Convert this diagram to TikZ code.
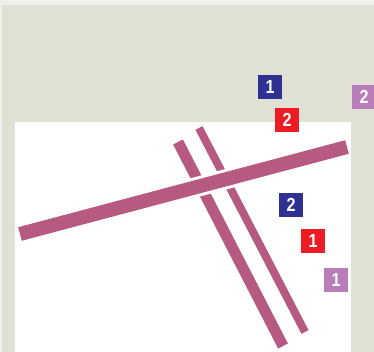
\documentclass[tikz,border=0pt]{standalone}
\usepackage{fontspec}
\setmainfont{Liberation Sans}
\newfontfamily\tagfont[FakeStretch=0.85]{Liberation Sans}
\definecolor{bgLight}{RGB}{240,240,232}
\definecolor{bgGray}{RGB}{224,224,212}
\definecolor{barRose}{RGB}{182,90,130}
\definecolor{tagBlue}{RGB}{46,49,146}
\definecolor{tagRed}{RGB}{237,28,36}
\definecolor{tagViolet}{RGB}{185,125,185}
\usetikzlibrary{positioning}

\begin{document}
\begin{tikzpicture}[x=1pt, y=-1pt,
    tag/.style={minimum size=24pt, inner sep=0pt, text=white,
      font=\tagfont\fontsize{19}{19}\selectfont\bfseries},
    bar/.style={draw=barRose, line cap=butt}]
    \useasboundingbox (0,0) rectangle (374,352);
    \fill[bgLight] (0,0) rectangle (374,352);
    \fill[bgGray] (2,5) rectangle (374,352);
    \fill[white] (15,122) rectangle (351,352);

    % the two slanted bars
    \draw[bar, line width=11pt] (178,142) -- (283,346);
    \draw[bar, line width=8pt] (199,128) -- (305,332);

    % the long bar crosses over them
    \draw[white, line width=20pt, line cap=butt] (20,234) -- (347,147);
    \draw[bar, line width=14pt] (20,234) -- (347,147);

    \node[tag, fill=tagBlue] (blueOne) at (270,87) {1};
    \node[tag, fill=tagRed] (redTwo) at (287,120) {2};
    \node[tag, fill=tagViolet] (violetTwo) at (364,97) {2};
    \node[tag, fill=tagBlue] (blueTwo) at (291,205) {2};
    \node[tag, fill=tagRed] (redOne) at (313,241) {1};
    \node[tag, fill=tagViolet] (violetOne) at (336,280) {1};
\end{tikzpicture}
\end{document}
